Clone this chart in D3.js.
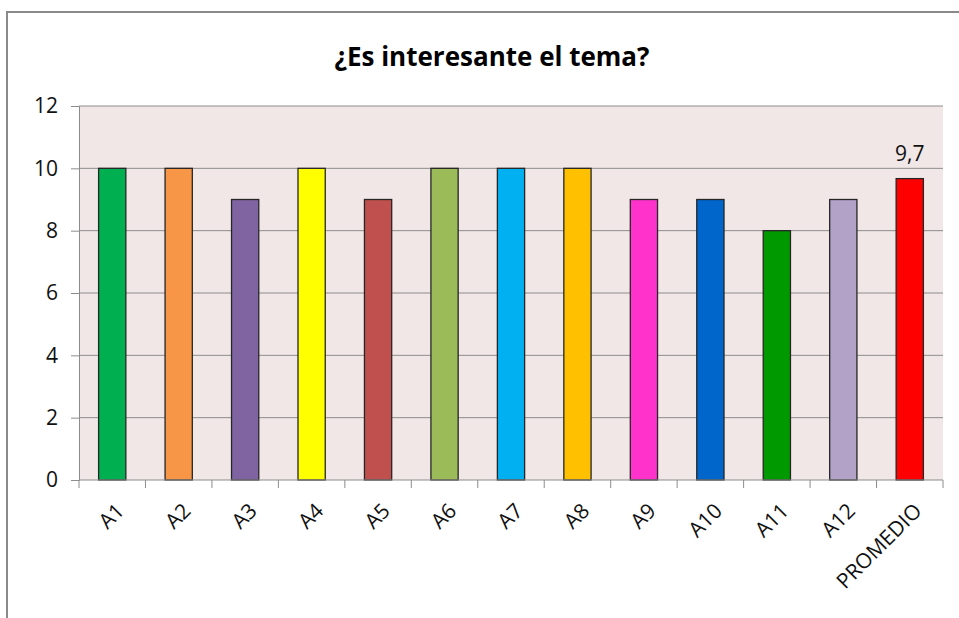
<!DOCTYPE html>
<html>
<head>
<meta charset="utf-8">
<script src="https://cdn.jsdelivr.net/npm/d3@7"></script>
<style>
  body { margin: 0; background: #fff; }
  svg { display: block; }
</style>
</head>
<body>
<svg id="chart" width="959" height="618"></svg>
<script>
"use strict";

const categories = ["A1", "A2", "A3", "A4", "A5", "A6", "A7", "A8", "A9", "A10", "A11", "A12", "PROMEDIO"];
const values = [10, 10, 9, 10, 9, 10, 10, 10, 9, 9, 8, 9, 9.67];
const barColors = ["#00B050", "#F79646", "#8064A2", "#FFFF00", "#C0504D", "#9BBB59", "#00B0F0",
                   "#FFC000", "#FF33CC", "#0066CC", "#009900", "#B2A2C7", "#FF0000"];
const yTicks = [0, 2, 4, 6, 8, 10, 12];
const title = "¿Es interesante el tema?";

const svg = d3.select("#chart");
const font = "'Open Sans', 'Noto Sans', sans-serif";

// outer chart border (runs off the right/bottom edges)
svg.append("rect")
    .attr("x", 7).attr("y", 12)
    .attr("width", 1000).attr("height", 700)
    .attr("fill", "#fff")
    .attr("stroke", "#8a8a8a")
    .attr("stroke-width", 2);

const plot = { left: 79, right: 943, top: 106, bottom: 480 };

const x = d3.scaleBand()
    .domain(categories)
    .range([plot.left, plot.right])
    .paddingInner(0.59)
    .paddingOuter(0.295);

const y = d3.scaleLinear()
    .domain([0, 12])
    .range([plot.bottom, plot.top]);

// plot background
svg.append("rect")
    .attr("x", plot.left).attr("y", plot.top)
    .attr("width", plot.right - plot.left)
    .attr("height", plot.bottom - plot.top)
    .attr("fill", "#F2E7E7");

// gridlines
svg.append("g")
    .selectAll("line")
    .data(yTicks.filter(d => d > 0))
    .join("line")
    .attr("x1", plot.left).attr("x2", plot.right)
    .attr("y1", d => y(d)).attr("y2", d => y(d))
    .attr("stroke", "#8c8c8c")
    .attr("stroke-width", 1);

// bars
svg.append("g")
    .selectAll("rect")
    .data(categories)
    .join("rect")
    .attr("x", d => x(d))
    .attr("y", (d, i) => y(values[i]))
    .attr("width", x.bandwidth())
    .attr("height", (d, i) => y(0) - y(values[i]))
    .attr("fill", (d, i) => barColors[i])
    .attr("stroke", "#262626")
    .attr("stroke-width", 1.3);

// y axis
const yAxis = svg.append("g")
    .attr("transform", `translate(${plot.left},0)`)
    .call(d3.axisLeft(y).tickValues(yTicks).tickSize(8).tickPadding(13));
yAxis.select(".domain").attr("stroke", "#8c8c8c");
yAxis.selectAll(".tick line").attr("stroke", "#8c8c8c");
yAxis.selectAll("text")
    .attr("fill", "#111")
    .style("font-family", font)
    .style("font-size", "21px");

// x axis: ticks sit at band boundaries, like the reference
const xb = svg.append("g").attr("transform", `translate(0,${plot.bottom})`);
xb.append("line")
    .attr("x1", plot.left).attr("x2", plot.right)
    .attr("stroke", "#8c8c8c");
const step = x.step();
xb.selectAll("line.tk")
    .data(d3.range(categories.length + 1))
    .join("line")
    .attr("class", "tk")
    .attr("x1", i => plot.left + i * step)
    .attr("x2", i => plot.left + i * step)
    .attr("y1", 0).attr("y2", 8)
    .attr("stroke", "#8c8c8c");

xb.selectAll("text")
    .data(categories)
    .join("text")
    .attr("transform", d => `translate(${x(d) + x.bandwidth() / 2 + 8},${27}) rotate(-45)`)
    .attr("text-anchor", "end")
    .attr("dy", "0.35em")
    .attr("fill", "#111")
    .style("font-family", font)
    .style("font-size", "21px")
    .text(d => d);

// value label on PROMEDIO
const last = categories.length - 1;
svg.append("text")
    .attr("x", x(categories[last]) + x.bandwidth() / 2)
    .attr("y", y(values[last]) - 18)
    .attr("text-anchor", "middle")
    .attr("fill", "#111")
    .style("font-family", font)
    .style("font-size", "21px")
    .text(d3.format(".1f")(values[last]).replace(".", ","));

// title
svg.append("text")
    .attr("x", 492).attr("y", 66)
    .attr("text-anchor", "middle")
    .attr("fill", "#000")
    .style("font-family", font)
    .style("font-weight", "bold")
    .style("font-size", "26px")
    .text(title);
</script>
</body>
</html>
